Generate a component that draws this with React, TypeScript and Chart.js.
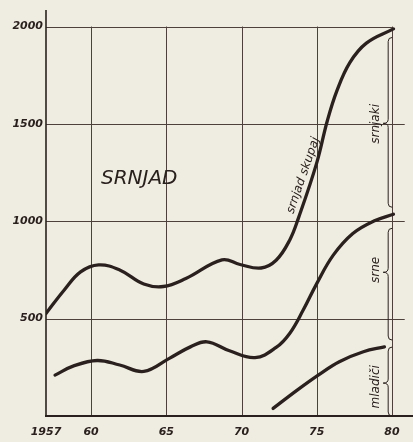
import React, { useEffect, useRef } from "react";
import { Chart, registerables } from "chart.js";

Chart.register(...registerables);

// ---- data ----
const totalYears = [1957.0, 1958.2, 1959.3, 1960.5, 1961.9, 1963.5, 1964.8, 1966.3, 1968.7, 1969.9, 1971.3, 1972.3, 1973.2, 1973.8, 1975.0, 1975.7, 1976.35, 1977.2, 1978.3, 1980.1];
const totalValues = [527, 646, 740, 776, 750, 678, 665, 706, 802, 778, 760, 800, 903, 1020, 1300, 1515, 1672, 1815, 1915, 1988];

const srneYears = [1957.6, 1958.8, 1960.4, 1961.9, 1963.5, 1965.2, 1966.6, 1967.7, 1969.2, 1970.9, 1972.3, 1973.2, 1974.1, 1975.0, 1976.1, 1977.4, 1978.8, 1980.1];
const srneValues = [210, 256, 285, 262, 229, 296, 355, 381, 335, 300, 352, 424, 544, 680, 826, 937, 1001, 1036];

const mladiciYears = [1972.1, 1973.7, 1975.1, 1976.5, 1978.1, 1979.5];
const mladiciValues = [39, 133, 210, 279, 330, 355];

const xTickValues = [1957, 1960, 1965, 1970, 1975, 1980];
const xTickLabels = ["1957", "60", "65", "70", "75", "80"];
const yTickValues = [500, 1000, 1500, 2000];
const yTickLabels = ["500", "1000", "1500", "2000"];

const braceLabels = ["srnjaki", "srne", "mladiči"];
const braceTop = [1944, 964, 354];
const braceBottom = [1072, 390, 0];
const braceTip = [1503, 738, 169];
const braceLabelValues = [1500, 750, 150];

const titleText = "SRNJAD";
const curveLabel = "srnjad skupaj";

const INK = "#2a201e";
const GRID = "#4e403b";
const PAPER = "#efede1";

const X_MIN = 1957;
const X_MAX = 1981.4;
const Y_MIN = 0;
const Y_MAX = 2085;

const paperPlugin = {
  id: "paperGrid",
  beforeDraw(chart: any) {
    const { ctx, width, height, scales } = chart;
    const xs = scales.x;
    const ys = scales.y;
    ctx.save();
    ctx.fillStyle = PAPER;
    ctx.fillRect(0, 0, width, height);

    ctx.strokeStyle = GRID;
    ctx.lineWidth = 1;
    yTickValues.forEach((v) => {
      const y = Math.round(ys.getPixelForValue(v)) + 0.5;
      const xEnd = v === 2000 ? xs.getPixelForValue(1980) : xs.getPixelForValue(1980.85);
      ctx.beginPath();
      ctx.moveTo(xs.getPixelForValue(X_MIN), y);
      ctx.lineTo(xEnd, y);
      ctx.stroke();
    });
    xTickValues.slice(1).forEach((v) => {
      const x = Math.round(xs.getPixelForValue(v)) + 0.5;
      ctx.beginPath();
      ctx.moveTo(x, ys.getPixelForValue(0));
      ctx.lineTo(x, ys.getPixelForValue(2000));
      ctx.stroke();
    });
    ctx.strokeStyle = INK;
    ctx.lineWidth = 1.6;
    ctx.beginPath();
    ctx.moveTo(xs.getPixelForValue(X_MIN), ys.getPixelForValue(Y_MIN));
    ctx.lineTo(xs.getPixelForValue(X_MIN), ys.getPixelForValue(Y_MAX));
    ctx.stroke();
    ctx.lineWidth = 2;
    ctx.beginPath();
    ctx.moveTo(xs.getPixelForValue(X_MIN) - 1, ys.getPixelForValue(Y_MIN));
    ctx.lineTo(width, ys.getPixelForValue(Y_MIN));
    ctx.stroke();
    ctx.restore();
  },
  afterDatasetsDraw(chart: any) {
    const { ctx, scales } = chart;
    const xs = scales.x;
    const ys = scales.y;
    ctx.save();
    ctx.strokeStyle = INK;
    ctx.lineWidth = 1;
    const bx = xs.getPixelForValue(1979.75);
    braceLabels.forEach((label, i) => {
      const yT = ys.getPixelForValue(braceTop[i]);
      const yB = ys.getPixelForValue(braceBottom[i]);
      const yM = ys.getPixelForValue(braceTip[i]);
      ctx.beginPath();
      ctx.moveTo(bx + 4, yT);
      ctx.quadraticCurveTo(bx, yT, bx, yT + 4);
      ctx.lineTo(bx, yM - 4);
      ctx.quadraticCurveTo(bx, yM, bx - 5, yM);
      ctx.quadraticCurveTo(bx, yM, bx, yM + 4);
      ctx.lineTo(bx, yB - 4);
      ctx.quadraticCurveTo(bx, yB, bx + 4, yB);
      ctx.stroke();

      ctx.save();
      ctx.translate(xs.getPixelForValue(1978.95), ys.getPixelForValue(braceLabelValues[i]));
      ctx.rotate(-Math.PI / 2);
      ctx.fillStyle = INK;
      ctx.font = "italic 12px 'DejaVu Sans'";
      ctx.textAlign = "center";
      ctx.textBaseline = "middle";
      ctx.fillText(label, 0, 0);
      ctx.restore();
    });

    ctx.fillStyle = INK;
    ctx.font = "italic 20px 'DejaVu Sans'";
    ctx.textAlign = "center";
    ctx.textBaseline = "middle";
    ctx.fillText(titleText, xs.getPixelForValue(1963.2), ys.getPixelForValue(1220));

    ctx.save();
    ctx.translate(xs.getPixelForValue(1974.1), ys.getPixelForValue(1235));
    ctx.rotate((-71 * Math.PI) / 180);
    ctx.font = "italic 12px 'DejaVu Sans'";
    ctx.textAlign = "center";
    ctx.textBaseline = "middle";
    ctx.fillText(curveLabel, 0, 0);
    ctx.restore();
    ctx.restore();
  },
};

function toPoints(xs: number[], ys: number[]) {
  return xs.map((x, i) => ({ x, y: ys[i] }));
}

export default function App() {
  const canvasRef = useRef<HTMLCanvasElement | null>(null);

  useEffect(() => {
    if (!canvasRef.current) return;
    const lineStyle = {
      borderColor: INK,
      borderWidth: 3.3,
      pointRadius: 0,
      fill: false,
      tension: 0.4,
      borderCapStyle: "round" as const,
      borderJoinStyle: "round" as const,
    };
    const chart = new Chart(canvasRef.current, {
      type: "line",
      data: {
        datasets: [
          { label: curveLabel, data: toPoints(totalYears, totalValues), ...lineStyle },
          { label: "srne", data: toPoints(srneYears, srneValues), ...lineStyle },
          { label: "mladiči", data: toPoints(mladiciYears, mladiciValues), ...lineStyle },
        ],
      },
      options: {
        animation: false,
        responsive: false,
        maintainAspectRatio: false,
        layout: { padding: { top: 10, left: 0, right: 0, bottom: 0 } },
        plugins: { legend: { display: false }, tooltip: { enabled: false } },
        scales: {
          x: {
            type: "linear",
            min: X_MIN,
            max: X_MAX,
            grid: { display: false, drawTicks: false },
            border: { display: false },
            afterBuildTicks: (scale: any) => {
              scale.ticks = xTickValues.map((v) => ({ value: v }));
            },
            afterFit: (scale: any) => {
              scale.height = 26;
            },
            ticks: {
              autoSkip: false,
              maxRotation: 0,
              padding: 10,
              color: INK,
              font: { family: "'DejaVu Sans'", size: 11, style: "italic", weight: "bold" },
              callback: (value: any) => {
                const i = xTickValues.indexOf(Number(value));
                return i >= 0 ? xTickLabels[i] : "";
              },
            },
          },
          y: {
            type: "linear",
            min: Y_MIN,
            max: Y_MAX,
            grid: { display: false, drawTicks: false },
            border: { display: false },
            afterBuildTicks: (scale: any) => {
              scale.ticks = yTickValues.map((v) => ({ value: v }));
            },
            afterFit: (scale: any) => {
              scale.width = 46;
            },
            ticks: {
              autoSkip: false,
              padding: 3,
              color: INK,
              font: { family: "'DejaVu Sans'", size: 11, style: "italic", weight: "bold" },
              callback: (value: any) => {
                const i = yTickValues.indexOf(Number(value));
                return i >= 0 ? yTickLabels[i] : "";
              },
            },
          },
        },
      },
      plugins: [paperPlugin],
    });
    return () => chart.destroy();
  }, []);

  return (
    <div style={{ position: "absolute", left: 0, top: 0, width: 413, height: 442, background: PAPER }}>
      <canvas ref={canvasRef} width={413} height={442} />
    </div>
  );
}
